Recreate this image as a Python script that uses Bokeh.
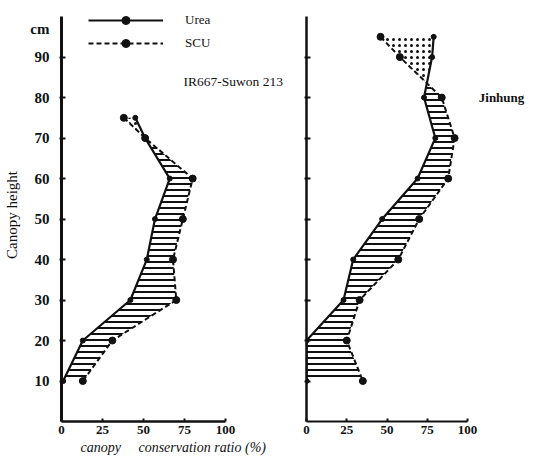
import numpy as np
from bokeh.plotting import figure
from bokeh.layouts import row
from bokeh.models import FixedTicker, Label, Legend, LegendItem, Title
from bokeh.embed import file_html
from bokeh.resources import INLINE

# ---- data ----
heights_a = [75, 70, 60, 50, 40, 30, 20, 10]
urea_a = [45, 51, 66, 57, 52, 42, 13, 1]
scu_a = [38, 51, 80, 74, 68, 70, 31, 13]

heights_b = [95, 90, 80, 70, 60, 50, 40, 30, 20, 10]
urea_b = [79, 78, 73, 80, 69, 47, 29, 23, 0, 0]
scu_b = [46, 58, 84, 92, 88, 70, 57, 33, 25, 35]

x_ticks = [0, 25, 50, 75, 100]
y_ticks = [10, 20, 30, 40, 50, 60, 70, 80, 90]

SERIF = "Liberation Serif"
INK = "#111111"


def vertices(h, u, s):
    """Polygon vertices of both curves, with their crossing points inserted."""
    ys, us, ss = [h[0]], [u[0]], [s[0]]
    for i in range(1, len(h)):
        d0 = s[i - 1] - u[i - 1]
        d1 = s[i] - u[i]
        if d0 * d1 < 0:
            t = d0 / (d0 - d1)
            yc = h[i - 1] + t * (h[i] - h[i - 1])
            xc = u[i - 1] + t * (u[i] - u[i - 1])
            ys.append(yc); us.append(xc); ss.append(xc)
        ys.append(h[i]); us.append(u[i]); ss.append(s[i])
    return np.array(ys), np.array(us), np.array(ss)


def make_panel(h, u, s, width, bl, x_end, labels_y, axis_w):
    p = figure(width=width, height=458, x_range=(0, x_end), y_range=(0, 102),
               output_backend="svg", toolbar_location=None,
               min_border_left=bl, min_border_right=0,
               min_border_top=8, min_border_bottom=37)
    p.grid.visible = False
    p.outline_line_color = None
    p.background_fill_color = "white"
    p.border_fill_color = "white"

    yv, uv, sv = vertices(h, u, s)
    # SCU > Urea : horizontal hatching
    p.harea(x1=uv, x2=np.maximum(uv, sv), y=yv, fill_color=None,
            hatch_pattern="horizontal_line", hatch_color=INK,
            hatch_weight=2, hatch_scale=6)
    # Urea > SCU : stippled
    p.harea(x1=sv, x2=np.maximum(uv, sv), y=yv, fill_color=None,
            hatch_pattern="dot", hatch_color=INK,
            hatch_weight=2, hatch_scale=6)

    ul = p.line(u, h, line_color=INK, line_width=2.2)
    us_ = p.scatter(u, h, size=5, color=INK)
    sl = p.line(s, h, line_color=INK, line_width=2, line_dash="5 3")
    ss_ = p.scatter(s, h, size=7, color=INK)

    xa = p.xaxis[0]
    xa.ticker = FixedTicker(ticks=x_ticks)
    xa.bounds = (0, 100)
    xa.axis_line_width = axis_w
    xa.axis_line_color = INK
    xa.major_tick_in = 3
    xa.major_tick_out = 0
    xa.major_tick_line_width = 2
    xa.major_tick_line_color = INK
    xa.minor_tick_line_color = None
    xa.major_label_standoff = 4
    xa.major_label_text_font = SERIF
    xa.major_label_text_font_style = "bold"
    xa.major_label_text_font_size = "13px"
    xa.major_label_text_color = INK

    ya = p.yaxis[0]
    ya.bounds = (0, 100)
    ya.axis_line_width = axis_w + 0.5
    ya.axis_line_color = INK
    ya.major_tick_line_color = None
    ya.major_tick_in = 0
    ya.major_tick_out = 2
    ya.minor_tick_in = 4
    ya.minor_tick_out = 2
    ya.minor_tick_line_width = 2
    ya.minor_tick_line_color = INK
    if labels_y:
        ya.ticker = FixedTicker(ticks=y_ticks + [97], minor_ticks=y_ticks)
        ya.major_label_overrides = {97: "cm"}
        ya.major_label_standoff = 10
        ya.major_label_text_font = SERIF
        ya.major_label_text_font_style = "bold"
        ya.major_label_text_font_size = "15px"
        ya.major_label_text_color = INK
        ya.axis_label = "Canopy height"
        ya.axis_label_standoff = 7
        ya.axis_label_text_font = SERIF
        ya.axis_label_text_font_style = "normal"
        ya.axis_label_text_font_size = "15px"
        ya.axis_label_text_color = INK
    else:
        ya.ticker = FixedTicker(ticks=[], minor_ticks=y_ticks)
    return p, (ul, us_), (sl, ss_)


# left frame: 0 -> x=61px, 100 -> x=225px ; right frame: 0 -> 306px, 100 -> 467px
left, urea_r, scu_r = make_panel(heights_a, urea_a, scu_a, 300, 61,
                                 (300 - 61) / 1.64, True, 2.5)
right, _, _ = make_panel(heights_b, urea_b, scu_b, 235, 6,
                         (235 - 6) / 1.61, False, 2)

legend = Legend(items=[LegendItem(label="Urea", renderers=list(urea_r)),
                       LegendItem(label="SCU", renderers=list(scu_r))],
                location=(27, 368), glyph_width=75, glyph_height=20,
                label_height=20, spacing=3, padding=0, margin=0,
                label_standoff=22, border_line_color=None,
                background_fill_alpha=0, label_text_font=SERIF,
                label_text_font_size="13px", label_text_color=INK)
left.add_layout(legend)

left.add_layout(Label(x=135, y=84, text="IR667-Suwon 213", text_align="right",
                      text_baseline="middle", text_font=SERIF,
                      text_font_size="13.5px", text_color=INK))
left.add_layout(Title(text="canopy\u00a0\u00a0\u00a0\u00a0 conservation ratio (%)",
                      align="left", offset=19, standoff=2, text_font=SERIF,
                      text_font_size="14px", text_font_style="italic",
                      text_color=INK), "below")
right.add_layout(Label(x=107, y=80, text="Jinhung", text_align="left",
                       text_baseline="middle", text_font=SERIF,
                       text_font_size="13px", text_font_style="bold",
                       text_color=INK))

layout = row(left, right, spacing=0)
open("out.html", "w").write(file_html(layout, INLINE))
